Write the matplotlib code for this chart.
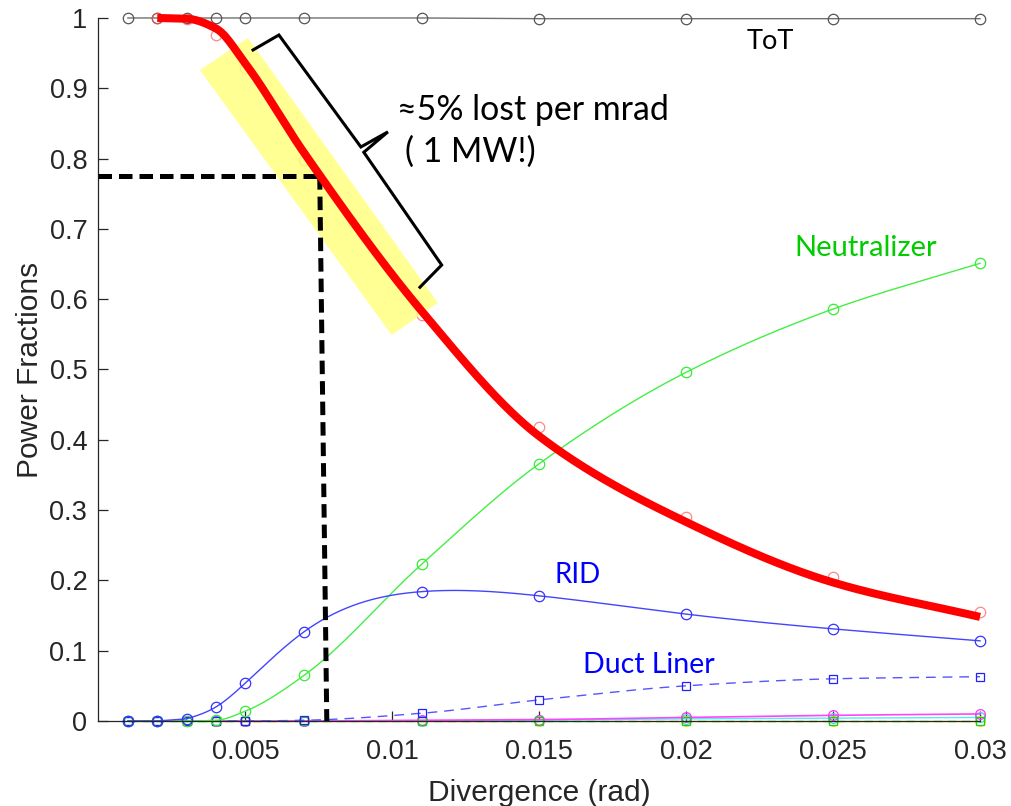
import numpy as np
import matplotlib
matplotlib.use('Agg')
import matplotlib.pyplot as plt
from matplotlib.patches import Polygon

# divergence values (rad) where the runs were done
divergence = [0.001, 0.002, 0.003, 0.004, 0.005, 0.007, 0.011, 0.015, 0.02, 0.025, 0.03]

# power fractions
tot = [1.0, 1.0, 1.0, 1.0, 1.0, 1.0, 1.0, 0.999, 0.999, 0.999, 0.999]
transmitted = [1.0, 1.0, 0.998, 0.976, 0.929, 0.798, 0.578, 0.418, 0.29, 0.205, 0.155]
neutralizer = [0.0, 0.0, 0.0, 0.001, 0.014, 0.065, 0.223, 0.366, 0.496, 0.586, 0.651]
rid = [0.0, 0.0, 0.003, 0.02, 0.054, 0.127, 0.184, 0.178, 0.152, 0.131, 0.114]
duct_liner = [0.0, 0.0, 0.0, 0.0, 0.0, 0.001, 0.011, 0.030, 0.050, 0.060, 0.063]
magenta_part = [0.0, 0.0, 0.0, 0.0, 0.0, 0.0, 0.001, 0.002, 0.005, 0.008, 0.010]
cyan_part = [0.0, 0.0, 0.0, 0.0, 0.0, 0.0, 0.0, 0.001, 0.003, 0.004, 0.005]
yellow_part = [0.0] * 11
green_sq_part = [0.0] * 11

# thick red fit through the transmitted fraction (starts at 0.002)
fit_x = [0.002, 0.003, 0.004, 0.005, 0.007, 0.011, 0.015, 0.02, 0.025, 0.03]
fit_y = [1.0, 0.999, 0.985, 0.935, 0.808, 0.583, 0.405, 0.283, 0.197, 0.148]

xticks = [0.005, 0.01, 0.015, 0.02, 0.025, 0.03]
xticklabels = ['0.005', '0.01', '0.015', '0.02', '0.025', '0.03']
yticks = [0, 0.1, 0.2, 0.3, 0.4, 0.5, 0.6, 0.7, 0.8, 0.9, 1]
yticklabels = ['0', '0.1', '0.2', '0.3', '0.4', '0.5', '0.6', '0.7', '0.8', '0.9', '1']


#shape preserving cubic (pchip) so the curves don't overshoot
def pchip(x, y, n=400):
    x = np.asarray(x, float)
    y = np.asarray(y, float)
    h = np.diff(x)
    d = np.diff(y) / h
    m = np.zeros_like(y)
    for k in range(1, len(x) - 1):
        if d[k-1] * d[k] > 0:
            w1 = 2*h[k] + h[k-1]
            w2 = h[k] + 2*h[k-1]
            m[k] = (w1 + w2) / (w1/d[k-1] + w2/d[k])
    m[0] = d[0]
    m[-1] = d[-1]
    xs = np.linspace(x[0], x[-1], n)
    i = np.clip(np.searchsorted(x, xs) - 1, 0, len(x) - 2)
    t = (xs - x[i]) / h[i]
    h00 = 2*t**3 - 3*t**2 + 1
    h10 = t**3 - 2*t**2 + t
    h01 = -2*t**3 + 3*t**2
    h11 = t**3 - t**2
    ys = h00*y[i] + h10*h[i]*m[i] + h01*y[i+1] + h11*h[i]*m[i+1]
    return xs, ys


#natural cubic spline, used for the RID curve which peaks between points
def natural_spline(x, y, n=400):
    x = np.asarray(x, float)
    y = np.asarray(y, float)
    N = len(x)
    h = np.diff(x)
    A = np.zeros((N, N))
    b = np.zeros(N)
    A[0, 0] = 1
    A[-1, -1] = 1
    for k in range(1, N - 1):
        A[k, k-1] = h[k-1]
        A[k, k] = 2*(h[k-1] + h[k])
        A[k, k+1] = h[k]
        b[k] = 6*((y[k+1]-y[k])/h[k] - (y[k]-y[k-1])/h[k-1])
    M = np.linalg.solve(A, b)
    xs = np.linspace(x[0], x[-1], n)
    i = np.clip(np.searchsorted(x, xs) - 1, 0, N - 2)
    a = x[i+1] - xs
    c = xs - x[i]
    ys = (M[i]*a**3 + M[i+1]*c**3)/(6*h[i]) + (y[i]/h[i] - M[i]*h[i]/6)*a + (y[i+1]/h[i] - M[i+1]*h[i]/6)*c
    return xs, ys


plt.rcParams['font.family'] = ['Liberation Sans', 'DejaVu Sans']
fig = plt.figure(figsize=(10.12, 8.06), dpi=100)
ax = fig.add_axes([0.0973, 0.1055, 0.8711, 0.8722])

thin = 1.0

# near zero components
ax.plot(*pchip(divergence, yellow_part), color='#ffee44', lw=thin, clip_on=False)
ax.plot(divergence, yellow_part, 'o', mfc='none', mec='#eedd00', ms=7, mew=0.9, clip_on=False)
ax.plot(*pchip(divergence, cyan_part), color='#55eeee', lw=thin, clip_on=False)
ax.plot(divergence, cyan_part, 'o', mfc='none', mec='#33dddd', ms=7, mew=0.9, clip_on=False)
ax.plot(*pchip(divergence, magenta_part), color='#ff44ff', lw=1.2, clip_on=False)
ax.plot(divergence, magenta_part, 'o', mfc='none', mec='#ff33ff', ms=7, mew=0.9, clip_on=False)
ax.plot(*pchip(divergence, green_sq_part), color='#33cc33', lw=thin, ls=(0, (6, 4)), clip_on=False)
ax.plot(divergence, green_sq_part, 's', mfc='none', mec='#22cc22', ms=6, mew=0.9, clip_on=False)

# duct liner
ax.plot(*pchip(divergence, duct_liner), color='#5555ff', lw=thin, ls=(0, (7, 5)), clip_on=False)
ax.plot(divergence, duct_liner, 's', mfc='none', mec='#2222ff', ms=6, mew=0.9, clip_on=False)

# neutralizer
ax.plot(*pchip(divergence, neutralizer), color='#44ee44', lw=thin, clip_on=False)
ax.plot(divergence, neutralizer, 'o', mfc='none', mec='#33ee33', ms=7.5, mew=0.9, clip_on=False)

# RID
rx, ry = natural_spline(divergence[2:], rid[2:])
ax.plot(divergence[:3], rid[:3], color='#4444ff', lw=thin, clip_on=False)
ax.plot(rx, ry, color='#4444ff', lw=thin, clip_on=False)
ax.plot(divergence, rid, 'o', mfc='none', mec='#3333ff', ms=7.5, mew=0.9, clip_on=False)

# ToT
ax.plot(divergence, tot, color='#707070', lw=thin, clip_on=False)
ax.plot(divergence, tot, 'o', mfc='none', mec='#555555', ms=7.5, mew=0.9, clip_on=False)

# transmitted markers (faded) + highlight band
ax.plot(divergence[1:], transmitted[1:], 'o', mfc='none', mec='#ff5555', ms=7.5, mew=0.9, alpha=0.7, clip_on=False)
band = Polygon([(0.00345, 0.926), (0.00509, 0.9716), (0.01155, 0.5946), (0.00998, 0.549)],
               closed=True, facecolor='#ffff80', edgecolor='none', alpha=0.85, zorder=3)
ax.add_patch(band)

# dashed guide lines at 0.775
ax.plot([0, 0.00753], [0.775, 0.775], color='black', lw=3.6, dashes=(2.7, 1.4), clip_on=False, zorder=4)
ax.plot([0.00753, 0.00777], [0.775, 0.0], color='black', lw=3.6, dashes=(2.7, 1.4), clip_on=False, zorder=4)

# thick red fit
fx, fy = pchip(fit_x, fit_y)
ax.plot(fx, fy, color='#ff0000', lw=5.8, solid_capstyle='butt', clip_on=False, zorder=5)

# bracket
bx = [0.00526, 0.00614, 0.00893, 0.00985, 0.00903, 0.01168, 0.01094]
by = [0.9545, 0.9758, 0.8165, 0.838, 0.809, 0.6486, 0.617]
ax.plot(bx, by, color='black', lw=2.2, solid_joinstyle='miter', zorder=5, clip_on=False)

label_font = ['Lato', 'DejaVu Sans']
ax.text(0.01015, 0.869, '\u22485% lost per mrad', fontsize=24.4, family=label_font, va='center', ha='left', color='black')
ax.text(0.01043, 0.809, '( 1 MW!)', fontsize=24.4, family=label_font, va='center', ha='left', color='black')
ax.text(0.02206, 0.966, 'ToT', fontsize=19.5, family=label_font, va='center', ha='left', color='black')
ax.text(0.02369, 0.673, 'Neutralizer', fontsize=21, family=label_font, va='center', ha='left', color='#00cc00')
ax.text(0.01553, 0.2077, 'RID', fontsize=20, family=label_font, va='center', ha='left', color='#0000ff')
ax.text(0.01648, 0.0797, 'Duct Liner', fontsize=20.5, family=label_font, va='center', ha='left', color='#0000ff')

ax.set_xlim(0, 0.03)
ax.set_ylim(0, 1)
ax.set_xticks(xticks)
ax.set_xticklabels(xticklabels)
ax.set_yticks(yticks)
ax.set_yticklabels(yticklabels)
ax.spines['top'].set_visible(False)
ax.spines['right'].set_visible(False)
for s in ['left', 'bottom']:
    ax.spines[s].set_color('#262626')
    ax.spines[s].set_linewidth(0.9)
ax.tick_params(direction='in', length=7, width=0.9, colors='#262626', labelsize=19.5)
ax.tick_params(axis='x', pad=13)
ax.tick_params(axis='y', pad=8)
ax.set_xlabel('Divergence (rad)', fontsize=21.5, color='#262626', labelpad=10)
ax.set_ylabel('Power Fractions', fontsize=21.5, color='#262626', labelpad=4)

plt.savefig('out.png', dpi=100)
